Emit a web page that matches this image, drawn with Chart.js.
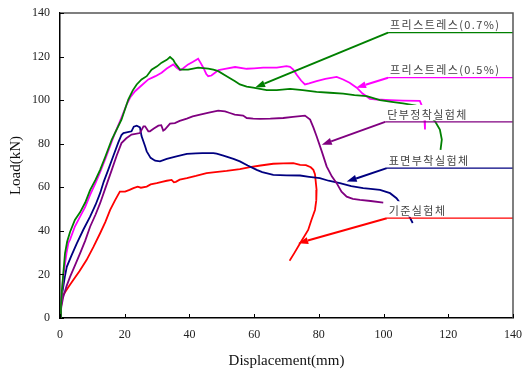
<!DOCTYPE html>
<html><head><meta charset="utf-8">
<script src="https://cdn.jsdelivr.net/npm/chart.js@4.4.1/dist/chart.umd.min.js"></script>
<style>html,body{margin:0;padding:0;background:#fff}canvas{display:block}</style>
</head><body>
<canvas id="c" width="523" height="372"></canvas>
<script>
// ---- axis ticks ----
const xTickValues = [0,20,40,60,80,100,120,140];
const yTickValues = [0,20,40,60,80,100,120,140];

// ---- series names ----
const seriesNames = ['프리스트레스(0.7%)','프리스트레스(0.5%)','단부정착실험체','표면부착실험체','기준실험체'];

// ---- 프리스트레스(0.7%) ----
const p07X = [0,0.3,0.6,1.0,1.55,2.2,3.1,4.6,6.2,7.8,9.3,11,12.4,14,16,19,21.1,22.5,23.7,25.2,26.8,28.3,30,31.4,33,34,35,35.5,37.1,39.6,42.7,45.8,47.4,48.9,51.5,54.1,55.6,57.7,59.7,63.9,67,71.1,75,79.3,83.4,87.5,91,94.8,98.9,102.5,106,110,113,115.9,117.4,118,117.6];
const p07Y = [0,6,12.7,20,29.7,35,39.5,45,48.5,53,58.7,63.5,68,74,81.9,91,100.3,104.5,107.2,109.5,111,114,115.5,117.2,118.5,119.8,118.5,117.2,114,114,114.9,114.5,114,113.3,111,108.7,107.2,106.2,105.7,104.6,104.6,105.2,104.6,103.8,103.4,103,102.3,101.8,100,99.2,98.5,97.5,95,90.3,86.5,81.9,77.2];

// ---- 프리스트레스(0.5%) ----
const p05X = [0,0.3,0.6,1.0,2.0,2.6,3.1,4.6,6.2,7.8,9.3,11,12.4,14,17,19,20.6,21.8,23.2,25,27.3,29.5,31.4,33,35,36,37.1,38,39.6,41,42.7,43.5,44.3,45.2,45.8,46.8,47.9,49,51,54.1,57.7,60,62.8,67,70,71.1,72.1,73.1,74.5,75.7,77,79.3,82,85.5,87.5,89.5,91.7,93.5,95.8,98,102,106,111.2,112.5,112.8,112.8];
const p05Y = [0,6,12,19,29.7,34.5,36,42,46.5,51,56.5,62,67,73,84.9,92,98,101.5,104.1,106.5,109.5,111,112.6,114.5,116.4,115,113.8,114.5,116.4,117.5,119,117,114.9,112,111,111.3,112.6,113.8,114.4,115.2,114.4,114.6,114.9,114.9,115.6,115.3,114,111.8,109,107.2,107.7,108.7,109.8,110.7,109.5,108,105.7,103,100.6,100.3,100,99.8,99.7,95,90.3,86.5];

// ---- 단부정착실험체 ----
const endX = [0,0.4,1.0,2,3.1,4.6,6.2,7.8,9.3,11,12.4,14,16,17.5,19,20.5,22.1,24.7,25.8,26.3,27.3,27.8,29,30.4,31.3,31.9,32.4,34,35.5,37,39.2,41,43.3,46,48.9,51,52.5,54,56.6,57.7,59.7,61.8,65,69,72,75.7,77.3,78.3,79.3,80.9,82.4,84,85.5,87,88.6,90.5,92.7,96,99.9];
const endY = [0,5,9.7,14.5,18.9,24,29.7,35.5,41.9,47.5,52.7,59.5,68,74.5,80.3,82.5,84.2,84.9,88,88,85.7,85.7,87,88.3,88.5,86,86.5,89.2,89.5,90.5,91.5,92.5,93.4,94.3,95.2,94.8,94.1,93.4,92.9,91.8,91.5,91.4,91.5,91.8,92.3,92.9,91.1,87.5,83.4,76.5,69.6,65,61.9,58,55.7,54.7,54.2,53.7,53];

// ---- 표면부착실험체 ----
const surfX = [0,0.3,0.6,1.0,1.5,2.1,3.5,5.2,7.2,9.3,11,12.4,13.5,14.9,16.5,18,19,19.6,20.6,22.1,22.8,23.7,24.2,24.7,25.2,26.3,26.8,28,29.4,30.9,33,36,39.2,42,44,47.4,48.4,50.5,53.6,55.6,58,59.7,60.8,62.5,65.9,70,74.2,77,80.3,83,86.5,90,93.7,96,98.9,102,104,106,108.2,109];
const surfY = [0,6,10.5,14.3,19,23.5,28.5,34.3,40.5,46.5,52,57.3,62.5,68,74.5,80.5,84,84.9,85.2,85.7,87.8,88.3,87.9,87.5,83.5,78.8,76.5,73.5,72.2,71.9,73,74.2,75.3,75.6,75.7,75.7,75.4,74.5,73,71.9,70,68.8,68,67,65.7,65.5,65.4,64.8,64.2,63,61.9,60.5,59.6,59.3,58.8,57.3,55,51,45.9,43.6];

// ---- 기준실험체 ----
const baseX = [0,0.3,0.6,1.0,2.5,4.1,6,8.2,10.3,12.4,14,15.5,17,18.5,20.1,21.5,22.7,24,25,26.8,28,29.9,31.5,33,34.5,35.2,35.8,37,39.2,42,45.3,48,51.5,55.6,58.7,62,65.9,69,72.1,74.2,76,77.5,78.3,78.8,79.3,79.2,78.8,77.7,76.7,74.2,72.5,71.1,70.9];
const baseY = [0,5,8.5,10.5,14,17.4,21.5,26.6,32.5,38.9,44,49.6,54,58,58,58.8,59.6,60.3,59.8,60.3,61.3,61.9,62.5,63,63.4,62.3,62.5,63.5,64.2,65.2,66.5,67,67.5,68.3,69.3,70,70.8,71,71.1,70.3,70.2,69.2,68,66,58.8,54,49.6,45,40.4,34.3,30,26.6,26.3];

// ---- callouts (data units): underline start, underline level, arrow tip ----
const calloutStartX = [101.4,101.4,100.5,101,101];
const calloutLineY  = [131,110.3,90,68.8,45.8];
const calloutTipX   = [60.3,91.5,80.9,88.6,73.6];
const calloutTipY   = [105.8,105.7,79.5,62.6,34.3];

const colors = ['#008000','#ff00ff','#800080','#000080','#ff0000'];
const zip = (xs, ys) => xs.map((v,i)=>({x:v, y:ys[i]}));
const seriesData = [zip(p07X,p07Y), zip(p05X,p05Y), zip(endX,endY), zip(surfX,surfY), zip(baseX,baseY)];

const frameTicks = {
  id:'frameTicks',
  afterDraw(chart){
    const {ctx, chartArea:a, scales:{x,y}} = chart;
    ctx.save();
    ctx.strokeStyle='#555'; ctx.lineWidth=1.5;
    ctx.beginPath(); ctx.moveTo(a.left,a.top); ctx.lineTo(a.right,a.top); ctx.lineTo(a.right,a.bottom); ctx.stroke();
    ctx.strokeStyle='#000'; ctx.lineWidth=1;
    x.ticks.forEach(t=>{const px=Math.round(x.getPixelForValue(t.value))+0.5; ctx.beginPath(); ctx.moveTo(px,a.bottom); ctx.lineTo(px,a.bottom-4); ctx.stroke();});
    y.ticks.forEach(t=>{const py=Math.round(y.getPixelForValue(t.value))+0.5; ctx.beginPath(); ctx.moveTo(a.left,py); ctx.lineTo(a.left+4,py); ctx.stroke();});
    ctx.restore();
  }
};

const callouts = {
  id:'callouts',
  afterDatasetsDraw(chart){
    const {ctx, chartArea:a, scales:{x,y}} = chart;
    ctx.save();
    ctx.font = '11px "Noto Sans CJK KR"';
    ctx.letterSpacing = '1.4px';
    seriesNames.forEach((txt,i)=>{
      const lx = x.getPixelForValue(calloutStartX[i]);
      const ly = y.getPixelForValue(calloutLineY[i]);
      const tx = x.getPixelForValue(calloutTipX[i]);
      const ty = y.getPixelForValue(calloutTipY[i]);
      const col = colors[i];
      const w = ctx.measureText(txt).width;
      ctx.fillStyle='#fff';
      ctx.fillRect(lx, ly-17, w+5, 15.5);
      ctx.fillStyle='#444';
      ctx.textBaseline='middle'; ctx.textAlign='left';
      ctx.fillText(txt, lx+2, ly-7.5);
      // underline
      ctx.strokeStyle=col; ctx.lineWidth=1.2;
      ctx.beginPath(); ctx.moveTo(lx,ly); ctx.lineTo(a.right,ly); ctx.stroke();
      // arrow shaft
      const ang = Math.atan2(ty-ly, tx-lx);
      const hl = 10, hw = 3.5;
      const bx = tx - hl*Math.cos(ang), by = ty - hl*Math.sin(ang);
      ctx.lineWidth=2;
      ctx.beginPath(); ctx.moveTo(lx,ly); ctx.lineTo(bx,by); ctx.stroke();
      ctx.fillStyle=col;
      ctx.beginPath();
      ctx.moveTo(tx,ty);
      ctx.lineTo(bx + hw*Math.sin(ang), by - hw*Math.cos(ang));
      ctx.lineTo(bx - hw*Math.sin(ang), by + hw*Math.cos(ang));
      ctx.closePath(); ctx.fill();
    });
    ctx.restore();
  }
};

const tickFont = {family:'"Liberation Serif", "Times New Roman", serif', size:12};
const titleFont = {family:'"Liberation Serif", "Times New Roman", serif', size:15};

new Chart(document.getElementById('c'), {
  type:'line',
  data:{
    datasets: seriesNames.map((n,i)=>({
      label:n, data:seriesData[i], borderColor:colors[i], backgroundColor:colors[i],
      borderWidth:1.8, pointRadius:0, tension:0, fill:false
    }))
  },
  options:{
    responsive:false, animation:false,
    layout:{padding:{left:0, top:13, right:10, bottom:0}},
    plugins:{legend:{display:false}, tooltip:{enabled:false}},
    scales:{
      x:{
        type:'linear', min:0, max:140,
        afterBuildTicks(s){ s.ticks = xTickValues.map(v=>({value:v})); },
        afterFit(s){ s.height = 54; s.paddingLeft = 0; s.paddingRight = 0; },
        ticks:{color:'#222', font:tickFont, padding:10, maxRotation:0},
        grid:{display:false, drawTicks:false},
        border:{display:true, color:'#000', width:1.5},
        title:{display:true, text:'Displacement(mm)', color:'#111', font:titleFont, padding:{top:0,bottom:2}}
      },
      y:{
        type:'linear', min:0, max:140,
        afterBuildTicks(s){ s.ticks = yTickValues.map(v=>({value:v})); },
        afterFit(s){ s.width = 60; s.paddingTop = 0; s.paddingBottom = 0; },
        ticks:{color:'#222', font:tickFont, padding:10},
        grid:{display:false, drawTicks:false},
        border:{display:true, color:'#000', width:1.5},
        title:{display:true, text:'Load(kN)', color:'#111', font:titleFont, padding:{top:7,bottom:0}}
      }
    }
  },
  plugins:[callouts, frameTicks]
});
</script>
</body></html>
